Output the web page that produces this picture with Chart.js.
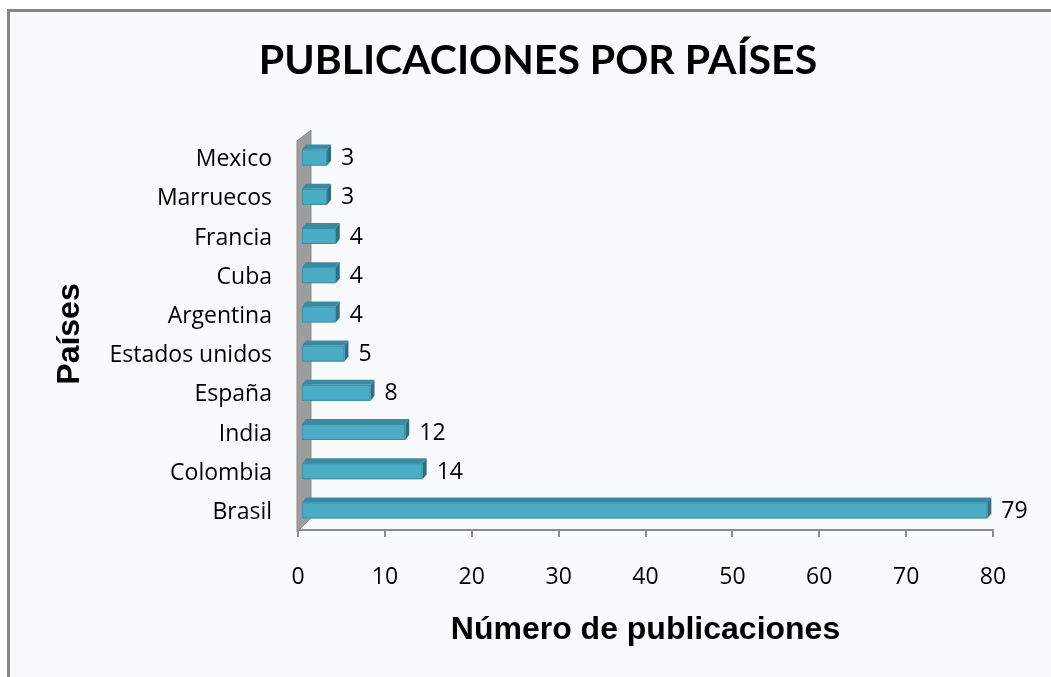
<!DOCTYPE html>
<html>
<head>
<meta charset="utf-8">
<title>Publicaciones por países</title>
<script src="https://cdn.jsdelivr.net/npm/chart.js@4/dist/chart.umd.min.js"></script>
<style>
    html, body { margin: 0; padding: 0; background: #ffffff; }
    #wrap { width: 1051px; height: 677px; }
</style>
</head>
<body>
<div id="wrap"><canvas id="paisesChart" width="1051" height="677"></canvas></div>
<script>
// Countries (bottom to top as drawn) and number of publications
const paises = ['Brasil', 'Colombia', 'India', 'España', 'Estados unidos', 'Argentina', 'Cuba', 'Francia', 'Marruecos', 'Mexico'];
const publicaciones = [79, 14, 12, 8, 5, 4, 4, 4, 3, 3];
const xTicks = [0, 10, 20, 30, 40, 50, 60, 70, 80];
const tituloGrafico = 'PUBLICACIONES POR PAÍSES';

const labelFont = '"Open Sans", Lato, sans-serif';
const titleFont = 'Lato, "Open Sans", sans-serif';
const boldFont = '"Liberation Sans", Arial, sans-serif';

// Page frame: light panel with a gray edge on top and left
const framePlugin = {
    id: 'frame',
    beforeDraw(chart) {
        const c = chart.ctx;
        c.save();
        c.fillStyle = '#ffffff';
        c.fillRect(0, 0, chart.width, chart.height);
        c.fillStyle = '#f9fafc';
        c.fillRect(8, 10, chart.width, chart.height);
        c.fillStyle = '#868686';
        c.fillRect(7, 9, chart.width, 3);
        c.fillRect(7, 9, 3, chart.height);
        c.restore();
    },
    afterDraw(chart) {
        // chart title, centred over the whole panel
        const c = chart.ctx;
        c.save();
        c.fillStyle = '#000000';
        c.font = 'bold 41px ' + titleFont;
        c.textAlign = 'center';
        c.textBaseline = 'middle';
        c.fillText(tituloGrafico, 538, 61);
        c.restore();
    }
};

// Draws the side wall and the bars as 3D blocks
const bars3dPlugin = {
    id: 'bars3d',
    beforeDatasetsDraw(chart) {
        const c = chart.ctx;
        const area = chart.chartArea;
        const L = area.left - 1;
        const R = area.left + 13;

        // wall
        c.save();
        c.beginPath();
        c.moveTo(L, area.bottom + 2);
        c.lineTo(L, area.top + 3);
        c.lineTo(R, area.top - 8);
        c.lineTo(R, area.bottom - 12);
        c.lineTo(L + 4, area.bottom - 2);
        c.closePath();
        c.fillStyle = '#9d9d9d';
        c.fill();
        c.strokeStyle = '#8a8a8a';
        c.lineWidth = 1;
        c.stroke();
        c.restore();

        const meta = chart.getDatasetMeta(0);
        const ds = chart.data.datasets[0];
        const shift = 3, dx = 4, dy = 5;

        c.save();
        meta.data.forEach((bar, i) => {
            const p = bar.getProps(['x', 'y', 'base', 'height'], true);
            const x0 = p.base + shift;
            const x1 = p.x + shift;
            const yt = p.y - p.height / 2;
            const yb = p.y + p.height / 2;

            // top face
            c.beginPath();
            c.moveTo(x0, yt);
            c.lineTo(x0 + dx, yt - dy);
            c.lineTo(x1 + dx, yt - dy);
            c.lineTo(x1, yt);
            c.closePath();
            c.fillStyle = '#3a8ba2';
            c.fill();

            // right face
            c.beginPath();
            c.moveTo(x1, yt);
            c.lineTo(x1 + dx, yt - dy);
            c.lineTo(x1 + dx, yb - dy);
            c.lineTo(x1, yb);
            c.closePath();
            c.fillStyle = '#2e6f84';
            c.fill();

            // front face
            c.fillStyle = ds.backgroundColor;
            c.fillRect(x0, yt, x1 - x0, p.height);
            c.strokeStyle = ds.borderColor;
            c.lineWidth = 1;
            c.strokeRect(x0 + 0.5, yt + 0.5, x1 - x0 - 1, p.height - 1);

            // value label
            c.fillStyle = '#000000';
            c.font = '23px ' + labelFont;
            c.textAlign = 'left';
            c.textBaseline = 'middle';
            c.fillText(String(ds.data[i]), x1 + dx + 10, p.y + 1);
        });
        c.restore();
        return false;
    }
};

const ctx = document.getElementById('paisesChart').getContext('2d');

new Chart(ctx, {
    type: 'bar',
    data: {
        labels: paises,
        datasets: [{
            label: 'Número de publicaciones',
            data: publicaciones,
            backgroundColor: '#4bacc6',
            borderColor: '#3b8da6',
            barThickness: 16
        }]
    },
    options: {
        indexAxis: 'y',
        responsive: false,
        animation: false,
        layout: {
            padding: { left: 24, right: 58, top: 138, bottom: 0 }
        },
        plugins: {
            legend: { display: false },
            tooltip: { enabled: false },
            title: { display: false }
        },
        scales: {
            x: {
                min: 0,
                max: 80,
                afterBuildTicks(scale) {
                    scale.ticks = xTicks.map(v => ({ value: v }));
                },
                afterFit(scale) {
                    scale.height = 147;
                },
                ticks: {
                    color: '#000000',
                    padding: 27,
                    font: { family: labelFont, size: 23 }
                },
                grid: {
                    drawOnChartArea: false,
                    drawTicks: true,
                    tickLength: 7,
                    color: '#8c8c8c',
                    lineWidth: 2
                },
                border: { display: true, color: '#8c8c8c', width: 2 },
                title: {
                    display: true,
                    text: 'Número de publicaciones',
                    color: '#000000',
                    font: { family: boldFont, size: 32, weight: 'bold' },
                    padding: { top: 0, bottom: 28 }
                }
            },
            y: {
                reverse: true,
                afterFit(scale) {
                    scale.width = 274;
                },
                ticks: {
                    color: '#000000',
                    padding: 26,
                    labelOffset: 2,
                    font: { family: labelFont, size: 23 }
                },
                grid: { display: false, drawTicks: false },
                border: { display: false },
                title: {
                    display: true,
                    text: 'Países',
                    color: '#000000',
                    font: { family: boldFont, size: 32, weight: 'bold' },
                    padding: { top: 27, bottom: 0 }
                }
            }
        }
    },
    plugins: [framePlugin, bars3dPlugin]
});
</script>
</body>
</html>
